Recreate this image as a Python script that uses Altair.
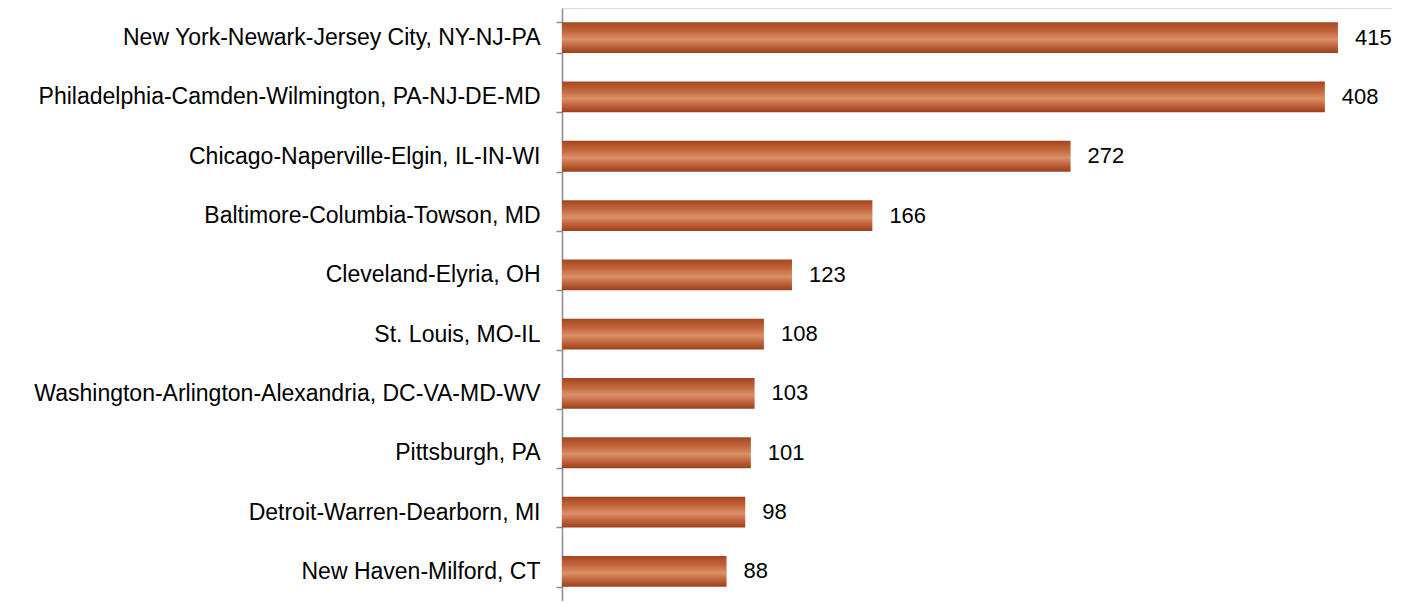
import altair as alt
import pandas as pd

metros = [
    "New York-Newark-Jersey City, NY-NJ-PA",
    "Philadelphia-Camden-Wilmington, PA-NJ-DE-MD",
    "Chicago-Naperville-Elgin, IL-IN-WI",
    "Baltimore-Columbia-Towson, MD",
    "Cleveland-Elyria, OH",
    "St. Louis, MO-IL",
    "Washington-Arlington-Alexandria, DC-VA-MD-WV",
    "Pittsburgh, PA",
    "Detroit-Warren-Dearborn, MI",
    "New Haven-Milford, CT",
]
values = [415, 408, 272, 166, 123, 108, 103, 101, 98, 88]

df = pd.DataFrame({"metro": metros, "value": values})

FONT = "Liberation Sans"

y_axis = alt.Axis(
    labelFont=FONT,
    labelFontSize=23,
    labelColor="#000000",
    labelPadding=16,
    tickSize=6,
    tickColor="#8c8c8c",
    tickWidth=1.5,
    tickBand="extent",
    domainColor="#8c8c8c",
    domainWidth=1.5,
    labelLimit=800,
    grid=False,
)
y_scale = alt.Scale(paddingInner=0.48, paddingOuter=0.24)

x = alt.X(
    "value:Q",
    title=None,
    scale=alt.Scale(domain=[0, 443.9], nice=False, zero=True),
    axis=None,
)

copper = alt.Gradient(
    gradient="linear",
    x1=0, y1=0, x2=0, y2=1,
    stops=[
        alt.GradientStop(color="#a3461f", offset=0),
        alt.GradientStop(color="#c4663d", offset=0.3),
        alt.GradientStop(color="#d99068", offset=0.55),
        alt.GradientStop(color="#bd5e36", offset=0.8),
        alt.GradientStop(color="#9a401c", offset=1),
    ],
)

bars = alt.Chart(df).mark_bar(color=copper).encode(
    x=x,
    y=alt.Y("metro:N", sort=metros, title=None, scale=y_scale, axis=y_axis),
)
labels = alt.Chart(df).mark_text(
    align="left", baseline="middle", dx=17, font=FONT, fontSize=22, color="#000000"
).encode(
    x=x,
    y=alt.Y("metro:N", sort=metros, title=None, scale=y_scale),
    text=alt.Text("value:Q"),
)

chart = (
    alt.layer(bars, labels)
    .properties(
        width=830,
        height=593,
        padding={"left": 25, "top": -11, "right": 0, "bottom": 0},
    )
    .configure_view(stroke=None, strokeWidth=0, fill=None)
    .configure_axisX(grid=False, domain=False, ticks=False, labels=False)
    .configure_axis(grid=False)
    .configure(background="white")
)

chart.save("out.html", embed_options={"renderer": "svg", "actions": False})
